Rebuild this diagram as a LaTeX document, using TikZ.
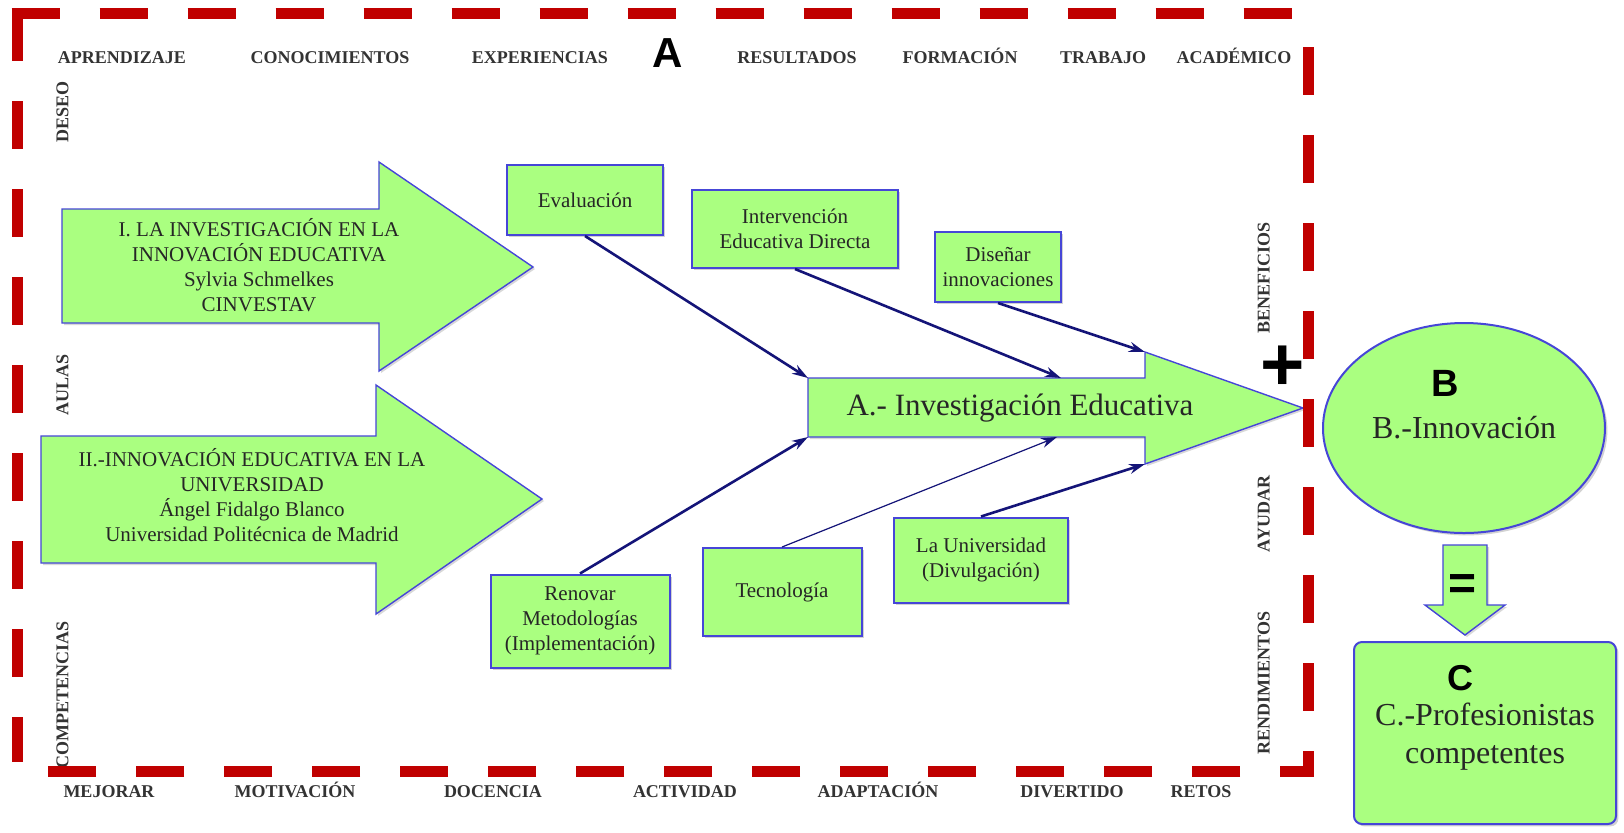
\documentclass[tikz,border=0pt]{standalone}
\usepackage{fontspec}
\setmainfont{Liberation Serif}
\newfontfamily\headfont{Liberation Sans}
\usetikzlibrary{arrows.meta,shapes.geometric,shadows}

\definecolor{leaf}{RGB}{170,255,128}
\definecolor{edge}{RGB}{70,70,215}
\definecolor{ink}{RGB}{20,20,120}
\definecolor{frame}{RGB}{192,0,0}

\begin{document}
\begin{tikzpicture}
[x=0.5pt, y=-0.5pt,
 box/.style={draw=edge, line width=1pt, fill=leaf, inner sep=0pt, align=center, text=black!85,
   font=\fontsize{10.5}{12.5}\selectfont, drop shadow={shadow xshift=1.2pt, shadow yshift=-1.2pt, opacity=.35}},
 block/.style={draw=edge, line width=.7pt, fill=leaf, drop shadow={shadow xshift=1pt, shadow yshift=-1pt, opacity=.3}},
 label/.style={align=center, text=black!85, font=\fontsize{10.5}{12.5}\selectfont},
 word/.style={text=black!80, text height=6.5pt, text depth=0pt, font=\fontsize{9}{10}\selectfont\bfseries},
 letter/.style={font=\headfont\bfseries\fontsize{20}{20}\selectfont},
 link/.style={draw=ink, line width=1.3pt, -{Stealth[length=8pt,width=5pt]}},
 frameline/.style={draw=frame, line width=5.5pt, dash pattern=on 24pt off 20pt}]

\path[use as bounding box, fill=white] (0,0) rectangle (1624,832);

\path[block] (62,209) -- (379,209) -- (379,162) -- (533,267) -- (379,371) -- (379,323) -- (62,323) -- cycle;
\node[label] (inv1) at (259,265) {I. LA INVESTIGACIÓN EN LA\\INNOVACIÓN EDUCATIVA\\Sylvia Schmelkes\\CINVESTAV};

\path[block] (41,436) -- (376,436) -- (376,385) -- (542,499) -- (376,614) -- (376,563) -- (41,563) -- cycle;
\node[label] (inv2) at (252,495) {II.-INNOVACIÓN EDUCATIVA EN LA\\UNIVERSIDAD\\Ángel Fidalgo Blanco\\Universidad Politécnica de Madrid};

\path[block] (808,378) -- (1145,378) -- (1145,352) -- (1303,408) -- (1145,464) -- (1145,437) -- (808,437) -- cycle;
\node[label, font=\fontsize{15.5}{18}\selectfont] (inv) at (1020,408) {A.- Investigación Educativa};
\coordinate (inv-tl) at (808,378);
\coordinate (inv-bl) at (808,437);
\coordinate (inv-t) at (1061,378);
\coordinate (inv-b) at (1057,437);
\coordinate (inv-ht) at (1145,352);
\coordinate (inv-hb) at (1145,464);

\node[box, minimum width=78pt, minimum height=35pt] (eval) at (585,200) {Evaluación};
\node[box, minimum width=103pt, minimum height=39pt] (interv) at (795,229) {Intervención\\Educativa Directa};
\node[box, minimum width=63pt, minimum height=35pt] (disenar) at (998,267) {Diseñar\\innovaciones};
\node[box, minimum width=89.5pt, minimum height=46.5pt] (renovar) at (580,621) {Renovar\\Metodologías\\(Implementación)};
\node[box, minimum width=79.5pt, minimum height=44pt] (tecno) at (782,592) {Tecnología};
\node[box, minimum width=87pt, minimum height=42.5pt] (univ) at (981,560) {La Universidad\\(Divulgación)};

\foreach \from/\to in {eval.south/inv-tl,interv.south/inv-t,disenar.south/inv-ht,renovar.north/inv-bl,univ.north/inv-hb}
	\draw[link] (\from) -- (\to);
\draw[link, line width=.6pt] (tecno.north) -- (inv-b);

\node[box, ellipse, minimum width=141pt, minimum height=105pt, font=\fontsize{16}{19}\selectfont] (innov) at (1464,428) {B.-Innovación};
\node[letter, font=\headfont\bfseries\fontsize{19}{19}\selectfont] (b) at (1445,383) {B};
\path[block] (1443,545) -- (1487,545) -- (1487,605) -- (1505,605) -- (1465,635) -- (1425,605) -- (1443,605) -- cycle;
\node[letter, font=\headfont\bfseries\fontsize{24}{24}\selectfont] (eq) at (1463,587) {=};
\node[box, rounded corners=4pt, minimum width=131pt, minimum height=91pt] (prof) at (1485,733) {};
\node[label, font=\fontsize{16}{19}\selectfont] (proftext) at (1485,737) {C.-Profesionistas\\competentes};
\node[letter, font=\headfont\bfseries\fontsize{18}{18}\selectfont] (c) at (1460,678) {C};

\node[letter, font=\headfont\bfseries\fontsize{21}{21}\selectfont] (a) at (668,53) {A};
\node[letter, font=\headfont\bfseries\fontsize{38}{38}\selectfont] (plus) at (1283,368) {+};

\foreach \w/\x [count=\i] in {APRENDIZAJE/122,CONOCIMIENTOS/330,EXPERIENCIAS/540,RESULTADOS/797,FORMACIÓN/960,TRABAJO/1103,ACADÉMICO/1234}
	\node[word] (top\i) at (\x,57) {\w};
\foreach \w/\x [count=\i] in {MEJORAR/109,MOTIVACIÓN/295,DOCENCIA/493,ACTIVIDAD/685,ADAPTACIÓN/878,DIVERTIDO/1072,RETOS/1201}
	\node[word] (bot\i) at (\x,791) {\w};
\foreach \w/\y [count=\i] in {DESEO/112,AULAS/385,COMPETENCIAS/695}
	\node[word, rotate=90] (left\i) at (62,\y) {\w};
\foreach \w/\y [count=\i] in {BENEFICIOS/278,AYUDAR/514,RENDIMIENTOS/683}
	\node[word, rotate=90] (right\i) at (1263,\y) {\w};

\draw[frameline] (17,13) -- (17,762);
\draw[frameline] (11.5,13) -- (1300,13);
\draw[frameline] (1308,47) -- (1308,771) -- (45,771);

\end{tikzpicture}
\end{document}
